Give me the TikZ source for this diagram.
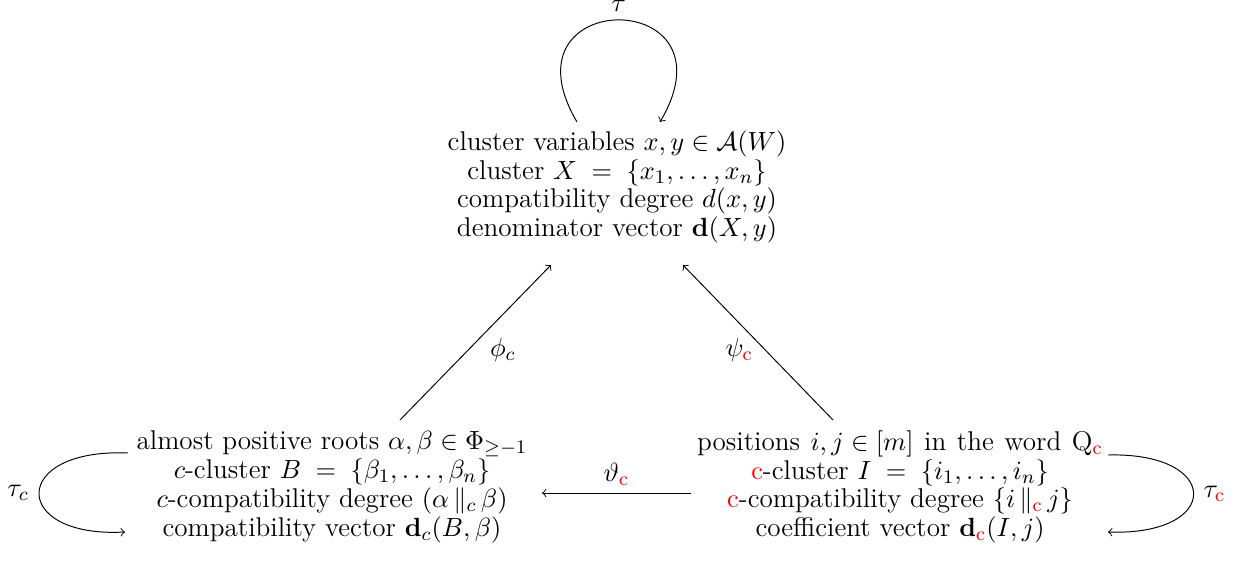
\documentclass[tikz,border=0pt]{standalone}
\usepackage{amsmath,amssymb}
\usetikzlibrary{calc}
\newcommand{\rc}{{\color{red}\mathrm{c}}}
\begin{document}
\begin{tikzpicture}[x=0.4163pt,y=-0.4163pt,
  every node/.style={font=\fontsize{11.3pt}{12pt}\selectfont},
  box/.style={align=center, inner sep=0pt},
  arr/.style={->},
  lab/.style={inner sep=0pt}]
\useasboundingbox (0,0) rectangle (1237,564);
\node[box] (T) at (617,187) {cluster variables $x,y\in\mathcal{A}(W)$\\ cluster $X\;=\;\{x_1,\dots,x_n\}$\\ compatibility degree $d(x,y)$\\ denominator vector $\mathbf{d}(X,y)$};
\node[box] (L) at (332,487) {almost positive roots $\alpha,\beta\in\Phi_{\geq-1}$\\ $c$-cluster $B\;=\;\{\beta_1,\dots,\beta_n\}$\\ $c$-compatibility degree $(\alpha\,\|_c\,\beta)$\\ compatibility vector $\mathbf{d}_c(B,\beta)$};
\node[box] (R) at (900,487) {{\spaceskip=4.4pt positions $i,j\in[m]$ in the word Q$_{\rc}$}\\ $\rc$-cluster $I\;=\;\{i_1,\dots,i_n\}$\\ $\rc$-compatibility degree $\{i\,\|_{\rc}\,j\}$\\ coefficient vector $\mathbf{d}_{\rc}(I,j)$};
% connectors
\draw[arr] ($(L.center)+(68,-67)$) -- node[lab, pos=0.45, right=9pt] {$\phi_c$} ($(T.center)+(-66,78)$);
\draw[arr] ($(R.center)+(-67,-67)$) -- node[lab, pos=0.45, left=5pt] {$\psi_{\rc}$} ($(T.center)+(66,78)$);
\draw[arr] ($(R.center)+(-209,6)$) -- node[lab, above=3pt] {$\vartheta_{\rc}$} ($(L.center)+(210,6)$);
% loops
\draw[arr] ($(T.center)+(-40,-65)$) .. controls ($(T.center)+(-120,-201)$) and ($(T.center)+(123,-201)$) .. node[lab, above=3.5pt] {$\tau$} ($(T.center)+(43,-65)$);
\draw[arr] ($(L.center)+(-204,-34)$) .. controls ($(L.center)+(-322,-39)$) and ($(L.center)+(-322,51)$) .. node[lab, left=4pt] {$\tau_c$} ($(L.center)+(-207,45)$);
\draw[arr] ($(R.center)+(208,-32)$) .. controls ($(R.center)+(322,-35)$) and ($(R.center)+(322,49)$) .. node[lab, right=4pt] {$\tau_{\rc}$} ($(R.center)+(208,45)$);
\end{tikzpicture}
\end{document}
